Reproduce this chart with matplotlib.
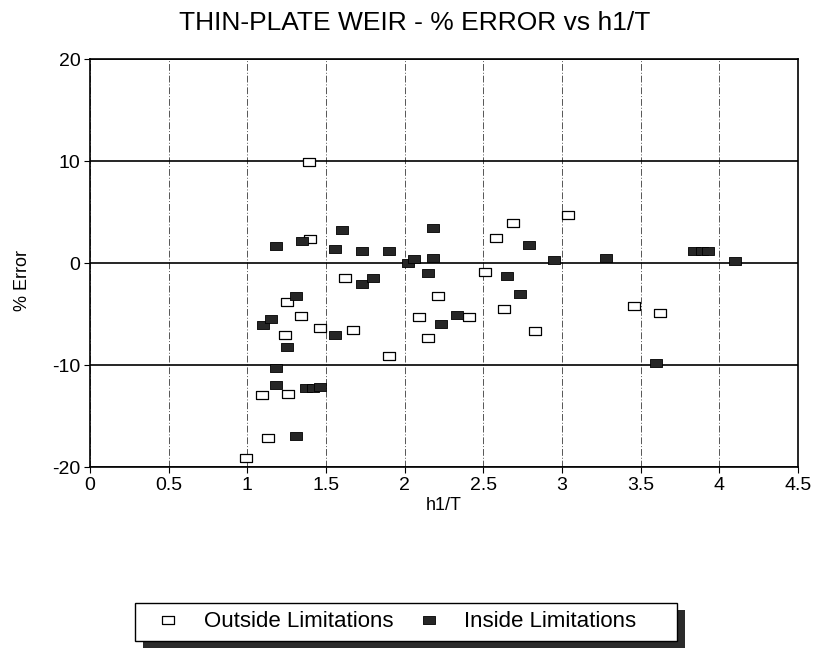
import matplotlib
matplotlib.use('Agg')
import matplotlib.pyplot as plt
from matplotlib.lines import Line2D
from matplotlib.patches import Rectangle

plt.rcParams['font.family'] = ['Liberation Sans', 'DejaVu Sans']
plt.rcParams['axes.unicode_minus'] = False

# h1/T and % error
outside_x = [0.99, 1.09, 1.13, 1.25, 1.24, 1.26, 1.34, 1.39, 1.40, 1.46, 1.62, 1.67, 1.90,
             2.09, 2.15, 2.21, 2.41, 2.51, 2.58, 2.63, 2.69, 2.83, 3.04, 3.46, 3.62]
outside_y = [-19.1, -12.95, -17.15, -3.87, -7.05, -12.8, -5.23, 9.9, 2.35, -6.4, -1.5, -6.54, -9.1,
             -5.26, -7.37, -3.2, -5.26, -0.91, 2.43, -4.5, 3.97, -6.7, 4.75, -4.22, -4.87]

inside_x = [1.10, 1.15, 1.18, 1.18, 1.18, 1.25, 1.31, 1.31, 1.35, 1.37, 1.42, 1.46,
            1.56, 1.56, 1.60, 1.73, 1.73, 1.80, 1.90, 2.02, 2.06, 2.18, 2.18, 2.15,
            2.23, 2.33, 2.65, 2.73, 2.79, 2.95, 3.28, 3.60, 3.84, 3.89, 3.93, 4.10]
inside_y = [-6.1, -5.45, 1.7, -10.3, -12.0, -8.2, -3.22, -16.97, 2.12, -12.3, -12.25, -12.2,
            1.36, -7.02, 3.24, 1.2, -2.03, -1.46, 1.2, 0.03, 0.39, 3.47, 0.45, -1.0,
            -6.02, -5.05, -1.3, -2.99, 1.74, 0.32, 0.45, -9.8, 1.13, 1.15, 1.18, 0.2]

x_ticks = [0, 0.5, 1, 1.5, 2, 2.5, 3, 3.5, 4, 4.5]
x_tick_labels = ['0', '0.5', '1', '1.5', '2', '2.5', '3', '3.5', '4', '4.5']
y_ticks = [-20, -10, 0, 10, 20]

# flat rectangle marker like the old plotter boxes
box = [(-1, -0.62), (1, -0.62), (1, 0.62), (-1, 0.62), (-1, -0.62)]

fig = plt.figure(figsize=(8.2, 6.55), dpi=100)
ax = fig.add_axes([0.1098, 0.287, 0.8634, 0.6229])

ax.plot(outside_x, outside_y, linestyle='none', marker=box, markersize=9,
        markerfacecolor='white', markeredgecolor='black', markeredgewidth=0.9, zorder=3)
ax.plot(inside_x, inside_y, linestyle='none', marker=box, markersize=8.6,
        markerfacecolor='#262626', markeredgecolor='black', markeredgewidth=0.6, zorder=4)

ax.set_xlim(0, 4.5)
ax.set_ylim(-20, 20)
ax.set_xticks(x_ticks)
ax.set_xticklabels(x_tick_labels)
ax.set_yticks(y_ticks)
ax.tick_params(direction='out', length=4, width=0.8, labelsize=14, pad=3)

# solid horizontal grid, dash-dot vertical grid
ax.grid(axis='y', color='black', linewidth=1.2, linestyle='-')
ax.grid(axis='x', color='#555555', linewidth=0.7, linestyle=(0, (7, 2, 1, 2)))
ax.set_axisbelow(True)
for s in ax.spines.values():
    s.set_linewidth(1.2)

fig.text(0.506, 0.965, 'THIN-PLATE WEIR - % ERROR vs h1/T', ha='center', va='center', fontsize=19)
fig.text(0.541, 0.229, 'h1/T', ha='center', va='center', fontsize=13)
fig.text(0.028, 0.5725, '% Error', ha='center', va='center', rotation=90, fontsize=13)

# legend box with the heavy drop shadow
fig.patches.append(Rectangle((0.1744, 0.0107), 0.661, 0.058, transform=fig.transFigure,
                             facecolor='#2b2b2b', edgecolor='none', zorder=0))
fig.patches.append(Rectangle((0.1646, 0.0214), 0.661, 0.058, transform=fig.transFigure,
                             facecolor='white', edgecolor='black', linewidth=1.0, zorder=1))

handles = [Line2D([], [], linestyle='none', marker=box, markersize=9, markerfacecolor='white',
                  markeredgecolor='black', markeredgewidth=0.9),
           Line2D([], [], linestyle='none', marker=box, markersize=8.6, markerfacecolor='#262626',
                  markeredgecolor='black', markeredgewidth=0.6)]
fig.legend(handles, ['Outside Limitations', 'Inside Limitations'], loc='center',
           bbox_to_anchor=(0.1546, 0.0214, 0.661, 0.058), ncol=2, frameon=False,
           fontsize=16, handlelength=0.8, handletextpad=1.2, columnspacing=1.2)

fig.savefig('out.png', dpi=100)
